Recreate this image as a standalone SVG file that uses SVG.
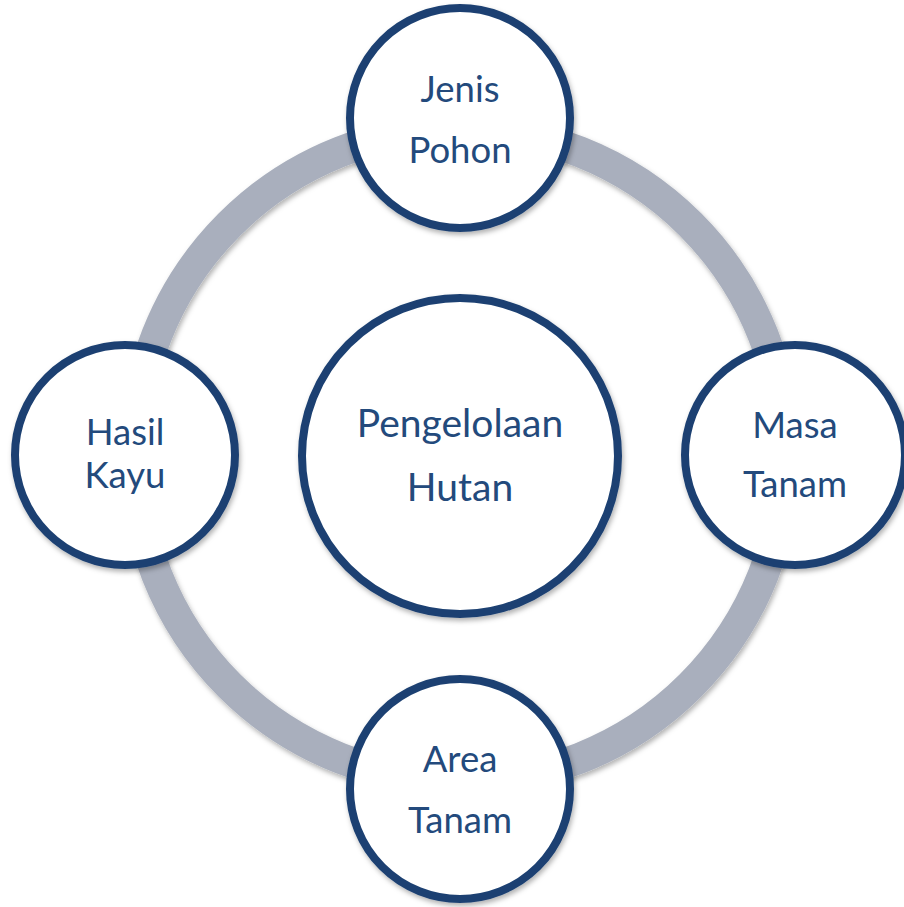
<svg xmlns="http://www.w3.org/2000/svg" width="904" height="907" viewBox="0 0 904 907">
<defs>
<filter id="sh" x="-20%" y="-20%" width="140%" height="140%">
<feDropShadow dx="1.5" dy="3" stdDeviation="2.5" flood-color="#000" flood-opacity="0.3"/>
</filter>
<style>
.node{fill:#fff;stroke:#1D4172;stroke-width:8;filter:url(#sh)}
.t{font-family:Lato,"Open Sans","Liberation Sans",sans-serif;font-size:36.5px;fill:#234A7C;text-anchor:middle}
.tc{font-size:39px}
.ring{fill:none;stroke:#A9AFBD;stroke-width:31;filter:url(#sh)}
</style>
</defs>
<rect width="904" height="907" fill="#fff"/>
<g id="connectors">
<circle class="ring" cx="460" cy="455" r="326"/>
</g>
<g id="center">
<circle class="node" cx="460" cy="456" r="158"/>
<text class="t tc" x="460" y="437">Pengelolaan</text>
<text class="t tc" x="460" y="501">Hutan</text>
</g>
<g id="jenis-pohon">
<circle class="node" cx="460" cy="118" r="110"/>
<text class="t" x="460" y="102">Jenis</text>
<text class="t" x="460" y="163">Pohon</text>
</g>
<g id="hasil-kayu">
<circle class="node" cx="125" cy="455" r="110"/>
<text class="t" x="125" y="445">Hasil</text>
<text class="t" x="125" y="488">Kayu</text>
</g>
<g id="masa-tanam">
<circle class="node" cx="795" cy="455" r="110"/>
<text class="t" x="795" y="438">Masa</text>
<text class="t" x="795" y="497">Tanam</text>
</g>
<g id="area-tanam">
<circle class="node" cx="460" cy="789" r="110"/>
<text class="t" x="460" y="772">Area</text>
<text class="t" x="460" y="833">Tanam</text>
</g>
</svg>
